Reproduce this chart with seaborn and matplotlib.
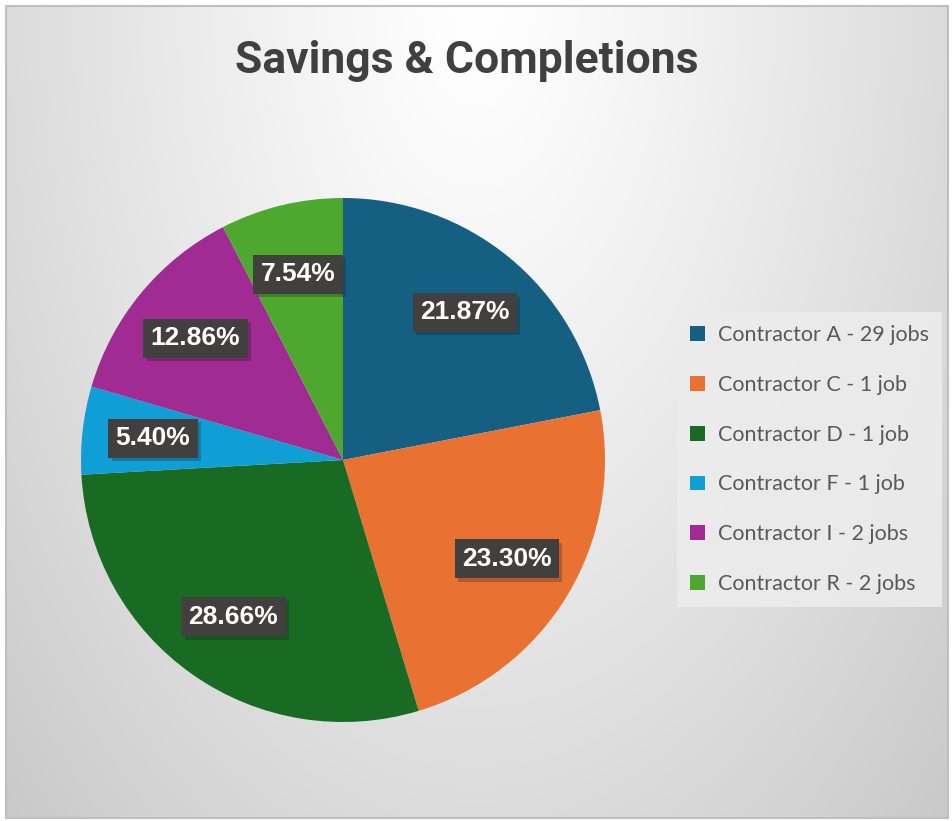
import numpy as np
import seaborn as sns
import matplotlib

matplotlib.use("Agg")
import matplotlib.pyplot as plt
import matplotlib.patheffects as pe
from matplotlib.patches import Rectangle

# Chart data.
contractors = ["Contractor A", "Contractor C", "Contractor D",
               "Contractor F", "Contractor I", "Contractor R"]
jobs = ["29 jobs", "1 job", "1 job", "1 job", "2 jobs", "2 jobs"]
savings_pct = [21.87, 23.30, 28.66, 5.40, 12.86, 7.54]
colors = ["#156082", "#E97132", "#196B24", "#0F9ED5", "#A02B93", "#4EA72E"]

sns.set_style("white")
palette = sns.color_palette(colors)

W, H = 953, 821
fig = plt.figure(figsize=(W / 100, H / 100), dpi=100)
fig.patch.set_facecolor("white")

# Background gradient inside the chart frame.
bg_ax = fig.add_axes([6 / W, 3 / H, 942 / W, 812 / H], zorder=-10)
yy, xx = np.mgrid[0:812, 0:942]
r = np.sqrt(((xx - 470) / 470.0) ** 2 + (yy / 818.0) ** 2)
shade = np.clip(255 - 36 * r ** 1.2, 190, 255) / 255.0
bg_ax.imshow(np.dstack([shade] * 3), aspect="auto", interpolation="bilinear")
bg_ax.axis("off")
fig.patches.append(Rectangle((6 / W, 3 / H), 942 / W, 812 / H,
                             transform=fig.transFigure, fill=False,
                             edgecolor="#bfbfbf", linewidth=1.5))

# Pie.
rad = 262
cx, cy = 343, 460
ax = fig.add_axes([(cx - rad) / W, (H - cy - rad) / H, 2 * rad / W, 2 * rad / H])
ax.set_facecolor("none")
wedges, _, autotexts = ax.pie(
    savings_pct,
    colors=palette,
    startangle=90,
    counterclock=False,
    autopct=lambda p: "",
    pctdistance=0.73,
    wedgeprops={"linewidth": 0},
)
ax.set_xlim(-1, 1)
ax.set_ylim(-1, 1)
ax.axis("off")

for t, v in zip(autotexts, savings_pct):
    t.set_text("{:.2f}%".format(v))
    t.set_fontsize(19)
    t.set_fontweight("bold")
    t.set_family("Liberation Sans")
    t.set_color("white")
    t.set_bbox({"boxstyle": "square,pad=0.28", "facecolor": "#423f3f",
                "edgecolor": "none"})
    t.get_bbox_patch().set_path_effects(
        [pe.SimplePatchShadow(offset=(2.5, -2.5), alpha=0.25), pe.Normal()]
    )

# Title.
fig.text(467 / W, 1 - 61 / H, "Savings & Completions", ha="center", va="center",
         fontsize=32, fontweight="bold", color="#404040",
         family=["Liberation Sans Narrow", "Roboto"])

# Legend.
leg = fig.legend(
    wedges,
    ["{} - {}".format(c, j) for c, j in zip(contractors, jobs)],
    loc="upper left",
    bbox_to_anchor=(677 / W, 1 - 312 / H),
    frameon=True,
    fancybox=False,
    prop={"family": "Lato", "size": 15.5},
    labelcolor="#595959",
    handlelength=0.68,
    handleheight=0.68,
    handletextpad=0.6,
    labelspacing=1.38,
    borderpad=0.62,
    borderaxespad=0,
)
leg.get_frame().set_facecolor("#ececec")
leg.get_frame().set_edgecolor("none")
leg.get_frame().set_alpha(0.9)

fig.savefig("out.png", dpi=100)
plt.close()
